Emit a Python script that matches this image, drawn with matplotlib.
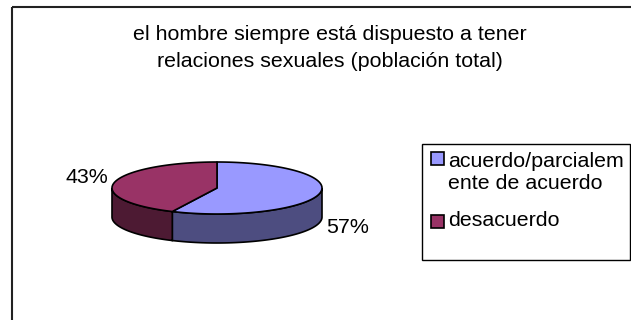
import numpy as np
import matplotlib.pyplot as plt
from matplotlib.patches import Polygon, Rectangle

plt.rcParams['font.family'] = ['Liberation Sans', 'DejaVu Sans']

# chart data
title = "el hombre siempre está dispuesto a tener\nrelaciones sexuales (población total)"
categories = ["acuerdo/parcialem\nente de acuerdo", "desacuerdo"]
values = [57, 43]
top_colors = ['#9999FF', '#993366']
side_colors = ['#4D4D80', '#4D1A33']

# pie geometry in pixel units (y grows downward)
cx, cy, a, b, depth = 217, 188, 105, 26, 29
fs = 15.4


def arc(t0, t1, dy=0, n=120):
    t = np.radians(np.linspace(t0, t1, n))
    return np.column_stack([cx + a * np.cos(t), cy - b * np.sin(t) + dy])


fig = plt.figure(figsize=(6.31, 3.2), dpi=100)
ax = fig.add_axes([0, 0, 1, 1])
ax.set_xlim(0, 631)
ax.set_ylim(320, 0)
ax.axis('off')

# outer chart frame (runs off the right and bottom edges)
ax.add_patch(Rectangle((12, 7), 640, 330, fill=False, ec='#222222', lw=1.5))

ax.text(330, 48, title, ha='center', va='center', fontsize=fs, linespacing=1.58)

fracs = np.array(values) / np.sum(values)
starts = 90 - 360 * np.concatenate([[0], np.cumsum(fracs)[:-1]])
ends = starts - 360 * fracs

# side walls first (only the front half, angles -180..0, is visible)
for s, e, col in zip(starts, ends, side_colors):
    lo, hi = max(e, -180), min(s, 0)
    if hi <= lo:
        continue
    pts = np.vstack([arc(lo, hi), arc(hi, lo, dy=depth)])
    ax.add_patch(Polygon(pts, closed=True, fc=col, ec='black', lw=1.2))

# top faces
for s, e, col in zip(starts, ends, top_colors):
    pts = np.vstack([[cx, cy], arc(s, e)])
    ax.add_patch(Polygon(pts, closed=True, fc=col, ec='black', lw=1.2, joinstyle='round'))

# percentage labels
for s, e, v in zip(starts, ends, values):
    mid = np.radians((s + e) / 2)
    lx = cx + 1.27 * a * np.cos(mid)
    ly = cy - 1.27 * b * np.sin(mid)
    if np.sin(mid) < 0:
        ly += depth + 3
    else:
        ly -= 3
    ax.text(lx, ly, f"{v}%", ha='center', va='center', fontsize=fs)

# legend box
ax.add_patch(Rectangle((422, 144), 208, 116, fill=False, ec='black', lw=1.0))
swatch_y = [158, 221]
text_y = [152, 211]
for cat, col, sy, ty in zip(categories, top_colors, swatch_y, text_y):
    ax.add_patch(Rectangle((431, sy - 6.5), 13, 13, fc=col, ec='black', lw=1.2))
    ax.text(448, ty, cat, ha='left', va='top', fontsize=fs, linespacing=1.2)

fig.savefig('out.png', dpi=100)
